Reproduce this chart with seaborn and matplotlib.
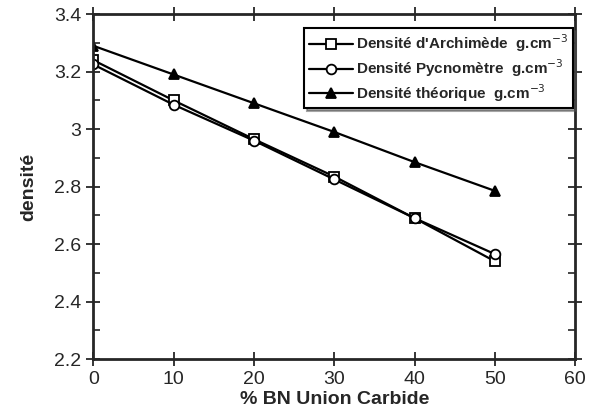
import matplotlib
matplotlib.use("Agg")
import matplotlib.pyplot as plt
import seaborn as sns
import pandas as pd
from matplotlib.ticker import MultipleLocator

sns.set_style("ticks")
plt.rcParams['font.family'] = ['Liberation Sans', 'DejaVu Sans']

pct_bn = [0, 10, 20, 30, 40, 50]
archimede = [3.24, 3.10, 2.965, 2.835, 2.69, 2.54]
pycnometre = [3.225, 3.085, 2.96, 2.825, 2.69, 2.565]
theorique = [3.29, 3.19, 3.09, 2.99, 2.885, 2.785]
labels = ["Densité d'Archimède  g.cm$^{-3}$",
          "Densité Pycnomètre  g.cm$^{-3}$",
          "Densité théorique  g.cm$^{-3}$"]

df = pd.DataFrame({
    "x": pct_bn * 3,
    "y": archimede + pycnometre + theorique,
    "s": [labels[0]] * 6 + [labels[1]] * 6 + [labels[2]] * 6,
})

fig = plt.figure(figsize=(5.9, 4.16), dpi=100)
ax = fig.add_axes([0.158, 0.137, 0.817, 0.829])

markers = {labels[0]: "s", labels[1]: "o", labels[2]: "^"}
faces = {labels[0]: "white", labels[1]: "white", labels[2]: "black"}
for lab in labels:
    sub = df[df.s == lab]
    sns.lineplot(data=sub, x="x", y="y", ax=ax, color="black", lw=1.6,
                 marker=markers[lab], markersize=7, markerfacecolor=faces[lab],
                 markeredgecolor="black", markeredgewidth=1.3, label=lab)

ax.set_xlim(0, 60)
ax.set_ylim(2.2, 3.4)
ax.xaxis.set_major_locator(MultipleLocator(10))
ax.yaxis.set_minor_locator(MultipleLocator(0.1))
ax.set_yticks([2.2, 2.4, 2.6, 2.8, 3.0, 3.2, 3.4])
ax.set_yticklabels(["2.2", "2.4", "2.6", "2.8", "3", "3.2", "3.4"])
ax.tick_params(axis="both", which="major", direction="inout", length=10, width=1.3,
               labelsize=14, top=True, right=True)
ax.tick_params(axis="y", which="minor", direction="in", length=5, width=1.2, right=True)
for sp in ax.spines.values():
    sp.set_visible(True)
    sp.set_linewidth(2)
ax.set_xlabel("% BN Union Carbide", fontsize=14, fontweight="bold", labelpad=2)
ax.set_ylabel("densité", fontsize=14, fontweight="bold", labelpad=12)

leg = ax.legend(loc="upper right", bbox_to_anchor=(0.995, 0.96), fancybox=False, shadow=True,
                frameon=True, edgecolor="black", framealpha=1,
                prop={"weight": "bold", "size": 11}, handlelength=2.9,
                handletextpad=0.2, borderpad=0.3, labelspacing=0.2, borderaxespad=0)
leg.get_frame().set_linewidth(1.5)

fig.savefig("out.png", dpi=100)
